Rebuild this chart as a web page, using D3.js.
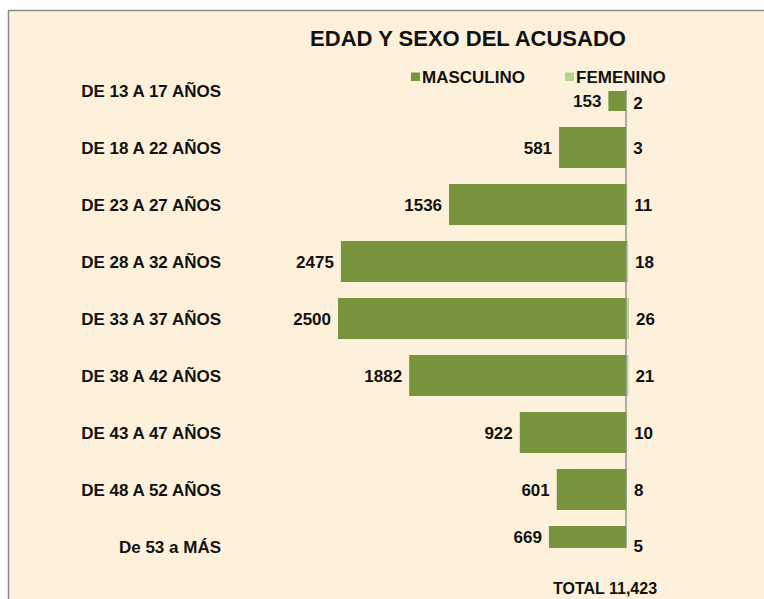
<!DOCTYPE html>
<html>
<head>
<meta charset="utf-8">
<script src="https://cdn.jsdelivr.net/npm/d3@7"></script>
<style>
  html, body { margin: 0; padding: 0; background: #fff; }
  svg { display: block; font-family: "Liberation Sans", Arial, sans-serif; font-weight: bold; }
</style>
</head>
<body>
<div id="chart"></div>
<script>
// ---- data -------------------------------------------------------------------
const categories = [
  'DE 13 A 17 AÑOS', 'DE 18 A 22 AÑOS', 'DE 23 A 27 AÑOS', 'DE 28 A 32 AÑOS',
  'DE 33 A 37 AÑOS', 'DE 38 A 42 AÑOS', 'DE 43 A 47 AÑOS', 'DE 48 A 52 AÑOS',
  'De 53 a MÁS'
];
const masculino = [153, 581, 1536, 2475, 2500, 1882, 922, 601, 669];
const femenino  = [2, 3, 11, 18, 26, 21, 10, 8, 5];
const seriesNames = ['MASCULINO', 'FEMENINO'];
const totalLabel = 'TOTAL 11,423';

// ---- layout -----------------------------------------------------------------
const W = 764, H = 599;
const plotTop = 91, plotBottom = 548;
const colM = '#77933c', colF = '#b7d28e';

const svg = d3.select('#chart').append('svg').attr('width', W).attr('height', H);

// frame with cream fill
svg.append('rect')
  .attr('x', 8.5).attr('y', 10.5).attr('width', 800).attr('height', 700)
  .attr('fill', '#fdf1db').attr('stroke', '#8c8c8c').attr('stroke-width', 1.5);

// title
svg.append('text').attr('x', 468).attr('y', 46).attr('text-anchor', 'middle')
  .attr('font-size', 22).attr('fill', '#111').text('EDAD Y SEXO DEL ACUSADO');

// scales
const y = d3.scalePoint().domain(categories).range([90.5, 546.5]);
const barH = y.step() * 0.72;
const x = d3.scaleLinear().domain([-2500, 2500]).range([338, 914]);

svg.append('defs').append('clipPath').attr('id', 'plot-clip')
  .append('rect').attr('x', 0).attr('y', plotTop).attr('width', W).attr('height', plotBottom - plotTop);

const rows = categories.map((c, i) => ({ cat: c, m: masculino[i], f: femenino[i] }));
const plot = svg.append('g').attr('clip-path', 'url(#plot-clip)');

// masculino bars (left of axis)
plot.selectAll('rect.m').data(rows).join('rect').attr('class', 'm')
  .attr('x', d => x(-d.m)).attr('width', d => x(0) - x(-d.m))
  .attr('y', d => y(d.cat) - barH / 2).attr('height', barH)
  .attr('fill', colM);

// femenino bars (right of axis)
plot.selectAll('rect.f').data(rows).join('rect').attr('class', 'f')
  .attr('x', x(0)).attr('width', d => x(d.f) - x(0))
  .attr('y', d => y(d.cat) - barH / 2).attr('height', barH)
  .attr('fill', colF);

// vertical category axis line
svg.append('line').attr('x1', x(0)).attr('x2', x(0))
  .attr('y1', plotTop - 1).attr('y2', plotBottom)
  .attr('stroke', '#888').attr('stroke-width', 1.3);

// category labels
svg.selectAll('text.cat').data(rows).join('text').attr('class', 'cat')
  .attr('x', 221).attr('y', d => y(d.cat) + 6).attr('text-anchor', 'end')
  .attr('font-size', 17).attr('fill', '#111').text(d => d.cat);

// value labels
const visCenter = d => {
  const top = Math.max(plotTop, y(d.cat) - barH / 2);
  const bot = Math.min(plotBottom, y(d.cat) + barH / 2);
  return (top + bot) / 2;
};
svg.selectAll('text.vm').data(rows).join('text').attr('class', 'vm')
  .attr('x', d => x(-d.m) - 7).attr('y', d => visCenter(d) + 6).attr('text-anchor', 'end')
  .attr('font-size', 17).attr('fill', '#111').text(d => d.m);
svg.selectAll('text.vf').data(rows).join('text').attr('class', 'vf')
  .attr('x', d => x(d.f) + 7)
  .attr('y', d => Math.min(plotBottom - 2, Math.max(plotTop + 12, y(d.cat))) + 6)
  .attr('font-size', 17).attr('fill', '#111').text(d => d.f);

// legend
const legend = svg.append('g');
[{ name: seriesNames[0], col: colM, x: 411 }, { name: seriesNames[1], col: colF, x: 565 }].forEach(s => {
  legend.append('rect').attr('x', s.x).attr('y', 72.5).attr('width', 9).attr('height', 8.5).attr('fill', s.col);
  legend.append('text').attr('x', s.x + 11).attr('y', 83).attr('font-size', 17).attr('fill', '#111').text(s.name);
});

// total
svg.append('text').attr('x', 605).attr('y', 594).attr('text-anchor', 'middle')
  .attr('font-size', 16).attr('fill', '#111').text(totalLabel);
</script>
</body>
</html>
